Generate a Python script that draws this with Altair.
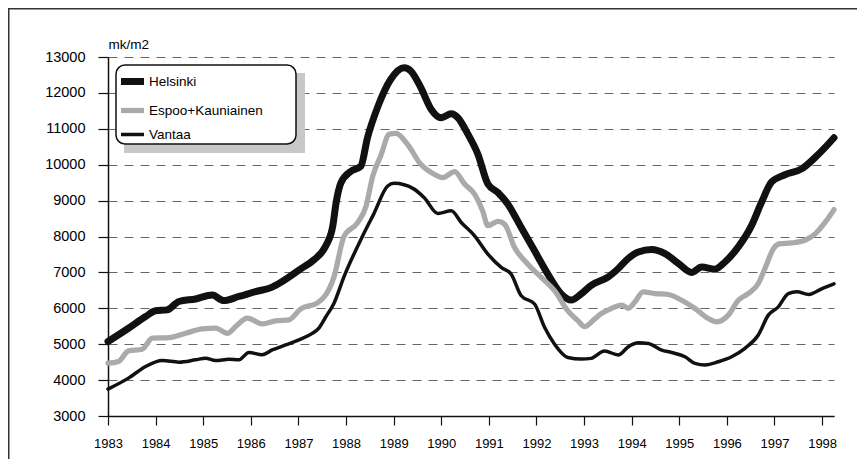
import altair as alt
import pandas as pd

FONT = "Liberation Sans"

series_names = ["Helsinki", "Espoo+Kauniainen", "Vantaa"]

helsinki_years = [1983.00, 1983.43, 1983.79, 1984.00, 1984.24, 1984.49, 1984.84, 1985.19, 1985.43, 1985.75,
                  1986.10, 1986.45, 1986.66, 1987.05, 1987.33, 1987.57, 1987.72, 1987.79, 1987.89, 1988.10,
                  1988.31, 1988.45, 1988.66, 1988.94, 1989.22, 1989.36, 1989.57, 1989.79, 1990.00, 1990.21,
                  1990.35, 1990.56, 1990.77, 1990.98, 1991.19, 1991.40, 1991.68, 1991.96, 1992.24, 1992.52,
                  1992.73, 1992.94, 1993.15, 1993.51, 1993.72, 1993.93, 1994.14, 1994.42, 1994.70, 1994.98,
                  1995.26, 1995.47, 1995.75, 1995.96, 1996.24, 1996.52, 1996.73, 1996.94, 1997.22, 1997.58,
                  1997.86, 1998.07, 1998.25]
helsinki_values = [5075, 5445, 5770, 5930, 5955, 6190, 6260, 6370, 6215, 6330,
                   6465, 6590, 6745, 7100, 7355, 7730, 8280, 8930, 9490, 9815,
                   9955, 10750, 11590, 12380, 12700, 12610, 12150, 11540, 11310, 11420,
                   11310, 10850, 10290, 9460, 9225, 8900, 8250, 7600, 6950, 6400,
                   6230, 6400, 6640, 6875, 7110, 7390, 7570, 7640, 7525, 7250,
                   7000, 7150, 7090, 7290, 7710, 8310, 8960, 9520, 9720, 9890,
                   10210, 10490, 10750]

espoo_years = [1983.00, 1983.22, 1983.43, 1983.72, 1983.93, 1984.28, 1984.63, 1984.98, 1985.26, 1985.51,
               1985.68, 1985.93, 1986.24, 1986.52, 1986.80, 1987.05, 1987.40, 1987.75, 1987.96, 1988.24,
               1988.42, 1988.56, 1988.73, 1988.91, 1989.05, 1989.29, 1989.57, 1989.85, 1990.03, 1990.28,
               1990.49, 1990.70, 1990.87, 1990.98, 1991.19, 1991.33, 1991.54, 1991.82, 1992.10, 1992.38,
               1992.66, 1992.87, 1993.01, 1993.22, 1993.36, 1993.58, 1993.79, 1993.93, 1994.07, 1994.24,
               1994.49, 1994.77, 1995.05, 1995.33, 1995.61, 1995.79, 1996.03, 1996.24, 1996.45, 1996.66,
               1996.80, 1996.98, 1997.12, 1997.36, 1997.64, 1997.86, 1998.07, 1998.25]
espoo_values = [4470, 4520, 4815, 4860, 5170, 5185, 5305, 5425, 5445, 5305,
                5490, 5725, 5565, 5650, 5680, 5985, 6150, 6890, 8010, 8380,
                8840, 9680, 10250, 10850, 10870, 10570, 10010, 9735, 9640, 9810,
                9460, 9180, 8710, 8300, 8420, 8345, 7695, 7230, 6860, 6490,
                5930, 5655, 5490, 5700, 5850, 6000, 6090, 6000, 6180, 6460,
                6410, 6385, 6225, 5995, 5715, 5625, 5810, 6225, 6410, 6690,
                7110, 7665, 7800, 7820, 7895, 8080, 8405, 8750]

vantaa_years = [1983.00, 1983.43, 1983.79, 1984.14, 1984.49, 1984.84, 1985.05, 1985.26, 1985.54, 1985.75,
                1985.96, 1986.24, 1986.45, 1986.73, 1987.01, 1987.29, 1987.43, 1987.57, 1987.75, 1987.96,
                1988.31, 1988.59, 1988.87, 1989.01, 1989.43, 1989.64, 1989.93, 1990.21, 1990.42, 1990.70,
                1990.98, 1991.26, 1991.47, 1991.68, 1991.96, 1992.17, 1992.38, 1992.66, 1992.94, 1993.15,
                1993.43, 1993.72, 1993.93, 1994.14, 1994.35, 1994.63, 1994.84, 1995.12, 1995.33, 1995.54,
                1995.82, 1996.10, 1996.38, 1996.66, 1996.87, 1997.08, 1997.29, 1997.47, 1997.72, 1998.00,
                1998.25]
vantaa_values = [3750, 4055, 4380, 4545, 4500, 4565, 4610, 4545, 4580, 4565,
                 4770, 4705, 4840, 4980, 5120, 5300, 5450, 5750, 6150, 6890,
                 7910, 8650, 9400, 9480, 9320, 9085, 8640, 8715, 8390, 8020,
                 7510, 7140, 6950, 6350, 6120, 5470, 5000, 4630, 4585, 4605,
                 4810, 4700, 4930, 5040, 5020, 4835, 4770, 4650, 4465, 4420,
                 4510, 4650, 4885, 5255, 5810, 6040, 6410, 6460, 6385, 6550,
                 6680]

quarter_ticks = [1983 + q / 4 for q in range(0, 62)]
y_ticks = list(range(3000, 14000, 1000))

series_colors = ["#111111", "#aaaaaa", "#111111"]
series_widths = [7, 3.5, 3]

rows = []
for name, ys, vs in [(series_names[0], helsinki_years, helsinki_values),
                     (series_names[1], espoo_years, espoo_values),
                     (series_names[2], vantaa_years, vantaa_values)]:
    for y, v in zip(ys, vs):
        rows.append({"series": name, "year": y, "value": v})
df = pd.DataFrame(rows)

W, H = 726, 359
PAD_R, PAD_B = 23, 43
xscale = alt.Scale(domain=[1983, 1998.25], nice=False, zero=False)
yscale = alt.Scale(domain=[3000, 13000], nice=False, zero=False)

legend = alt.Legend(
    title=None, orient="none", legendX=6, legendY=6, padding=3,
    symbolType="stroke", symbolSize=530, rowPadding=0, labelOffset=1,
    labelFont=FONT, labelFontSize=13.5, labelColor="#000000",
    fillColor=None, strokeColor=None,
)

lines = alt.Chart(df).mark_line(interpolate="monotone", strokeCap="round", strokeJoin="round").encode(
    x=alt.X("year:Q", scale=xscale, axis=alt.Axis(
        values=quarter_ticks, format="d", title=None, grid=False, orient="bottom",
        labelExpr="datum.value % 1 === 0 ? datum.label : ''",
        domainColor="#111111", domainWidth=1.5, tickColor="#111111", tickWidth=1.2,
        tickSize={"condition": {"test": "datum.value % 1 === 0", "value": 9}, "value": 4},
        labelFont=FONT, labelFontSize=13, labelColor="#000000", labelPadding=12,
        labelFlush=False, labelOverlap=False)),
    y=alt.Y("value:Q", scale=yscale, axis=alt.Axis(
        values=y_ticks, format="d", grid=True, gridDash=[9, 7], gridColor="#666666", gridWidth=1.2,
        domainColor="#111111", domainWidth=1.5, tickColor="#111111", tickSize=10, tickWidth=1.2,
        labelFont=FONT, labelFontSize=14.5, labelColor="#000000", labelPadding=13,
        title="mk/m2", titleAngle=0, titleAlign="left", titleBaseline="alphabetic",
        titleX=0, titleY=-9, titleFont=FONT, titleFontSize=13.5, titleFontWeight="normal",
        titleColor="#000000")),
    color=alt.Color("series:N", scale=alt.Scale(domain=series_names, range=series_colors), legend=legend),
    strokeWidth=alt.StrokeWidth("series:N", scale=alt.Scale(domain=series_names, range=series_widths), legend=legend),
)

one = alt.Data(values=[{"k": 1}])
shadow = alt.Chart(one).mark_rect(fill="#c8c8c8").encode(
    x=alt.value(16), x2=alt.value(197), y=alt.value(16), y2=alt.value(96))
box = alt.Chart(one).mark_rect(fill="white", stroke="#111111", strokeWidth=1.5, cornerRadius=9).encode(
    x=alt.value(8), x2=alt.value(188), y=alt.value(8), y2=alt.value(87))
frame_top = alt.Chart(one).mark_rule(stroke="#333333", strokeWidth=2).encode(
    x=alt.value(-100), x2=alt.value(W + PAD_R), y=alt.value(-48.5))
frame_left = alt.Chart(one).mark_rule(stroke="#333333", strokeWidth=2).encode(
    x=alt.value(-99.5), y=alt.value(-49), y2=alt.value(H + PAD_B))

chart = alt.layer(frame_top, frame_left, shadow, box, lines).properties(
    width=W, height=H,
    autosize=alt.AutoSizeParams(type="none"),
    padding={"left": 100, "top": 49, "right": PAD_R, "bottom": PAD_B},
    background="white",
).configure_view(stroke=None)

chart.save("out.html", embed_options={"renderer": "svg", "actions": False})
